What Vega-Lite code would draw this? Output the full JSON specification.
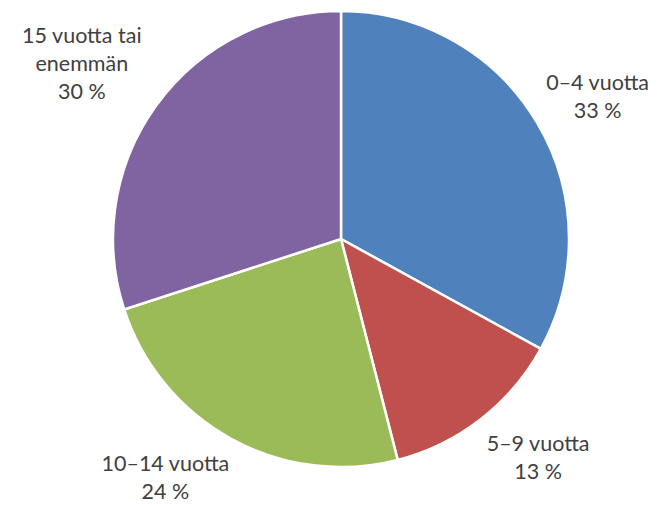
{
  "$schema": "https://vega.github.io/schema/vega-lite/v6.json",
  "width": 662,
  "height": 478,
  "padding": {"left": 10, "top": 0, "right": 0, "bottom": 27},
  "autosize": {"type": "none"},
  "background": "white",
  "view": {"stroke": null},
  "data": {
    "values": [
      {"idx": 1, "group": "0–4 vuotta", "share": 33, "label": "0–4 vuotta\n33 %"},
      {"idx": 2, "group": "5–9 vuotta", "share": 13, "label": "5–9 vuotta\n13 %"},
      {"idx": 3, "group": "10–14 vuotta", "share": 24, "label": "10–14 vuotta\n24 %"},
      {"idx": 4, "group": "15 vuotta tai enemmän", "share": 30, "label": "15 vuotta tai\nenemmän\n30 %"}
    ]
  },
  "encoding": {
    "theta": {"field": "share", "type": "quantitative", "stack": true},
    "order": {"field": "idx", "type": "quantitative"}
  },
  "layer": [
    {
      "mark": {"type": "arc", "outerRadius": 228, "stroke": "white", "strokeWidth": 2.5},
      "encoding": {
        "color": {
          "field": "group",
          "type": "nominal",
          "scale": {
            "domain": ["0–4 vuotta", "5–9 vuotta", "10–14 vuotta", "15 vuotta tai enemmän"],
            "range": ["#4F81BD", "#C0504D", "#9BBB59", "#8064A2"]
          },
          "legend": null
        }
      }
    },
    {
      "mark": {
        "type": "text",
        "radius": 240,
        "font": "Lato",
        "fontSize": 21.5,
        "lineHeight": 28,
        "lineBreak": "\n",
        "align": "center",
        "baseline": "top",
        "dx": {"expr": "((datum.share_start + datum.share_end) / 2 < 50 ? 1 : -1) * 5 * max(length(split(datum.label, '\\n')[0]), length(split(datum.label, '\\n')[1]))"},
        "dy": {"expr": "((datum.share_start + datum.share_end) / 2 < 25 || (datum.share_start + datum.share_end) / 2 > 75) ? -(length(split(datum.label, '\\n')) * 28 - 12) : 5"},
        "color": "#404040"
      },
      "encoding": {
        "text": {"field": "label", "type": "nominal"}
      }
    }
  ]
}
